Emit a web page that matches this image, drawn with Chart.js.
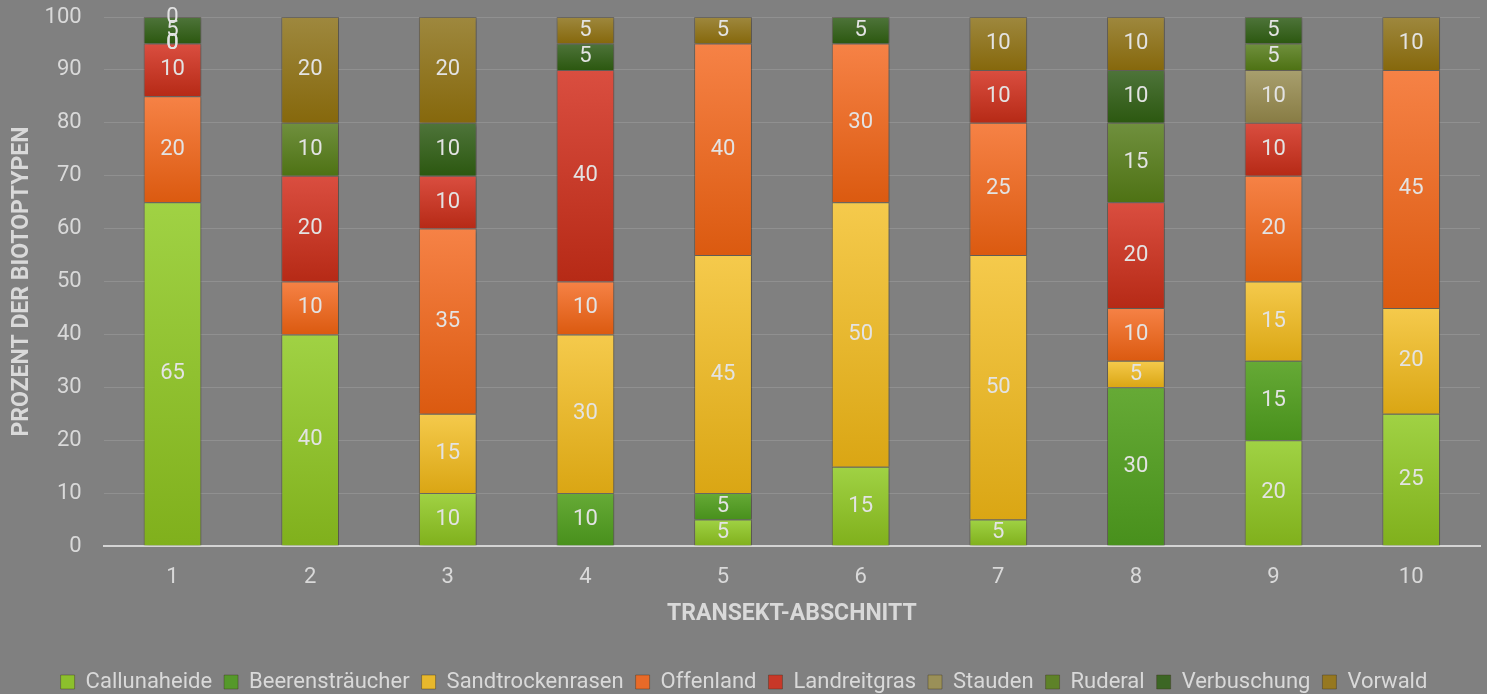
<!DOCTYPE html>
<html>
<head>
<meta charset="utf-8">
<script src="https://cdn.jsdelivr.net/npm/chart.js@4.4.1/dist/chart.umd.min.js"></script>
<style>
  html, body { margin: 0; padding: 0; background: #808080; }
  #wrap { width: 1487px; height: 694px; }
</style>
</head>
<body>
<div id="wrap"><canvas id="barChart" width="1487" height="694"></canvas></div>
<script>
var abschnitte = ['1', '2', '3', '4', '5', '6', '7', '8', '9', '10'];
var yTicks = [0, 10, 20, 30, 40, 50, 60, 70, 80, 90, 100];

var callunaheide     = [65, 40, 10, null, 5, 15, 5, null, 20, 25];
var beerenstraeucher = [null, null, null, 10, 5, null, null, 30, 15, null];
var sandtrockenrasen = [null, null, 15, 30, 45, 50, 50, 5, 15, 20];
var offenland        = [20, 10, 35, 10, 40, 30, 25, 10, 20, 45];
var landreitgras     = [10, 20, 10, 40, null, null, 10, 20, 10, null];
var stauden          = [0, null, null, null, null, null, null, null, 10, null];
var ruderal          = [0, 10, null, null, null, null, null, 15, 5, null];
var verbuschung      = [5, null, 10, 5, null, 5, null, 10, 5, null];
var vorwald          = [0, 20, 20, 5, 5, null, 10, 10, null, 10];

// [top colour, bottom colour, legend colour]
var farben = [
    ['#a0d244', '#80b01c', '#8cc02c'],
    ['#66aa36', '#48901c', '#55992a'],
    ['#f5ca4c', '#daa614', '#e8b82c'],
    ['#f68246', '#db5a10', '#e86a28'],
    ['#da4e40', '#b62a16', '#c83828'],
    ['#a89f6e', '#887c44', '#9a9058'],
    ['#70903e', '#4e7214', '#5e8228'],
    ['#4e743a', '#2c5810', '#3c6624'],
    ['#9e883e', '#86680c', '#967820']
];
var namen = ['Callunaheide', 'Beerensträucher', 'Sandtrockenrasen', 'Offenland', 'Landreitgras', 'Stauden', 'Ruderal', 'Verbuschung', 'Vorwald'];
var reihen = [callunaheide, beerenstraeucher, sandtrockenrasen, offenland, landreitgras, stauden, ruderal, verbuschung, vorwald];

var schrift = 'Roboto, "Noto Sans", sans-serif';
var textFarbe = '#d9d9d9';

function verlauf(ctx) {
    var chart = ctx.chart;
    var f = farben[ctx.datasetIndex];
    if (ctx.type !== 'data' || !chart.chartArea || !chart.scales.y) return f[2];
    var unten = 0;
    for (var i = 0; i < ctx.datasetIndex; i++) unten += reihen[i][ctx.dataIndex] || 0;
    var oben = unten + (reihen[ctx.datasetIndex][ctx.dataIndex] || 0);
    var y0 = chart.scales.y.getPixelForValue(oben);
    var y1 = chart.scales.y.getPixelForValue(unten);
    if (y1 - y0 < 1) return f[2];
    var g = chart.ctx.createLinearGradient(0, y0, 0, y1);
    g.addColorStop(0, f[0]);
    g.addColorStop(1, f[1]);
    return g;
}

// soft shadow under the bars
var schatten = {
    id: 'schatten',
    beforeDatasetsDraw: function(chart) {
        var c = chart.ctx;
        c.save();
        c.shadowColor = 'rgba(0,0,0,0.28)';
        c.shadowBlur = 4;
        c.shadowOffsetX = 1;
        c.shadowOffsetY = 1;
    },
    afterDatasetsDraw: function(chart) {
        chart.ctx.restore();
    }
};

var wertLabels = {
    id: 'wertLabels',
    afterDatasetsDraw: function(chart) {
        var c = chart.ctx;
        c.save();
        c.font = '22px ' + schrift;
        c.fillStyle = '#e3e3e3';
        c.textAlign = 'center';
        c.textBaseline = 'middle';
        chart.data.datasets.forEach(function(ds, di) {
            var meta = chart.getDatasetMeta(di);
            meta.data.forEach(function(el, i) {
                var v = ds.data[i];
                if (v === null || v === undefined) return;
                c.fillText(String(v), el.x, (el.y + el.base) / 2);
            });
        });
        c.restore();
    }
};

var ctx = document.getElementById('barChart').getContext('2d');
var myChart = new Chart(ctx, {
    type: 'bar',
    data: {
        labels: abschnitte,
        datasets: reihen.map(function(r, i) {
            return {
                label: namen[i],
                data: r,
                backgroundColor: verlauf,
                borderColor: 'rgba(60,50,30,0.35)',
                borderWidth: 1,
                categoryPercentage: 1,
                barPercentage: 0.42
            };
        })
    },
    options: {
        responsive: false,
        animation: false,
        layout: { padding: { left: 8, right: 7, top: 0, bottom: -9 } },
        plugins: {
            legend: {
                position: 'bottom',
                labels: {
                    color: textFarbe,
                    font: { family: schrift, size: 22 },
                    boxWidth: 14,
                    boxHeight: 14,
                    padding: 12,
                    generateLabels: function(chart) {
                        return chart.data.datasets.map(function(ds, i) {
                            return {
                                text: ds.label,
                                fillStyle: farben[i][2],
                                strokeStyle: 'rgba(60,50,30,0.4)',
                                lineWidth: 1,
                                fontColor: textFarbe,
                                datasetIndex: i,
                                hidden: !chart.isDatasetVisible(i)
                            };
                        });
                    }
                }
            },
            tooltip: { enabled: false }
        },
        scales: {
            x: {
                stacked: true,
                grid: { display: false },
                border: { color: '#d4d4d4', width: 2 },
                ticks: { color: textFarbe, font: { family: schrift, size: 22 }, padding: 10 },
                title: {
                    display: true,
                    text: 'TRANSEKT-ABSCHNITT',
                    color: textFarbe,
                    font: { family: schrift, size: 23, weight: 'bold' },
                    padding: { top: 0, bottom: 31 }
                }
            },
            y: {
                stacked: true,
                min: 0,
                max: 100,
                afterBuildTicks: function(axis) {
                    axis.ticks = yTicks.map(function(v) { return { value: v }; });
                },
                afterFit: function(axis) {
                    axis.width -= 21;
                    axis.paddingTop = 17;
                },
                grid: { color: 'rgba(255,255,255,0.13)', lineWidth: 1, drawTicks: false },
                border: { display: false },
                ticks: { color: textFarbe, font: { family: schrift, size: 22 }, padding: 22 },
                title: {
                    display: true,
                    text: 'PROZENT DER BIOTOPTYPEN',
                    color: textFarbe,
                    font: { family: schrift, size: 23, weight: 'bold' },
                    padding: { top: 0, bottom: 8 }
                }
            }
        }
    },
    plugins: [schatten, wertLabels]
});
</script>
</body>
</html>
